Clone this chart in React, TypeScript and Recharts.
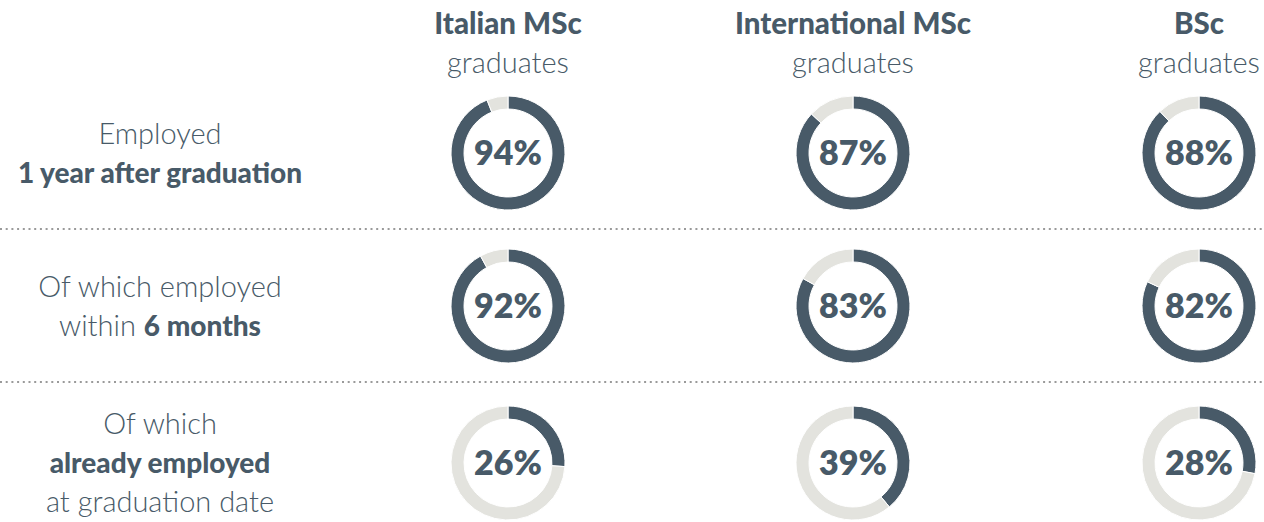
import React from "react";
import { PieChart, Pie, Cell, Customized } from "recharts";

const groups = ["Italian MSc", "International MSc", "BSc"];
const groupSub = "graduates";
const italian = [94, 92, 26];
const international = [87, 83, 39];
const bsc = [88, 82, 28];
const seriesByGroup = [italian, international, bsc];

type Seg = { t: string; b?: boolean };
const rowLabels: Seg[][][] = [
  [[{ t: "Employed" }], [{ t: "1 year after graduation", b: true }]],
  [[{ t: "Of which employed" }], [{ t: "within " }, { t: "6 months", b: true }]],
  [[{ t: "Of which" }], [{ t: "already employed", b: true }], [{ t: "at graduation date" }]],
];

const W = 1264;
const H = 522;
const colX = [508, 853, 1199];
const rowY = [153, 306, 463];
const sepY = [229, 382];
const DARK = "#485a68";
const LIGHT = "#e3e3de";
const FONT = "Lato, 'Open Sans', sans-serif";

const Overlay = () => (
  <g>
    {sepY.map((y, i) => (
      <line key={i} x1={0} x2={W} y1={y} y2={y} stroke="#9a9a9a" strokeWidth={2} strokeDasharray="2 3.7" />
    ))}
    {groups.map((g, i) => (
      <g key={g}>
        <text x={colX[i]} y={34} textAnchor="middle" fontFamily={FONT} fontWeight={900} fontSize={29.5} fill={DARK}>
          {g}
        </text>
        <text x={colX[i]} y={73} textAnchor="middle" fontFamily={FONT} fontWeight={300} fontSize={29} fill={DARK}>
          {groupSub}
        </text>
      </g>
    ))}
    {rowLabels.map((lines, r) => {
      const n = lines.length;
      const lh = 39;
      const top = rowY[r] - ((n - 1) * lh) / 2 + 10;
      return lines.map((segs, li) => (
        <text key={r + "-" + li} x={160} y={top + li * lh} textAnchor="middle" fontFamily={FONT} fill={DARK}>
          {segs.map((s, k) => (
            <tspan key={k} fontWeight={s.b ? 900 : 300} fontSize={s.b ? 28 : 29}>
              {s.t}
            </tspan>
          ))}
        </text>
      ));
    })}
    {seriesByGroup.map((vals, c) =>
      vals.map((v, r) => (
        <text key={c + "-" + r} x={colX[c]} y={rowY[r] + 12} textAnchor="middle" fontFamily={FONT} fontWeight={800} fontSize={34} fill={DARK}>
          {v}%
        </text>
      ))
    )}
  </g>
);

export default function App() {
  return (
    <div style={{ position: "absolute", left: 0, top: 0, width: W, height: H, background: "#fff" }}>
      <PieChart width={W} height={H} margin={{ top: 0, right: 0, bottom: 0, left: 0 }}>
        {seriesByGroup.map((vals, c) =>
          vals.map((v, r) => (
            <Pie
              key={c + "-" + r}
              data={[{ name: "yes", value: v }, { name: "no", value: 100 - v }]}
              dataKey="value"
              cx={colX[c]}
              cy={rowY[r]}
              innerRadius={44}
              outerRadius={57}
              startAngle={90}
              endAngle={-270}
              stroke="#fff"
              strokeWidth={1}
              isAnimationActive={false}
            >
              <Cell fill={DARK} />
              <Cell fill={LIGHT} />
            </Pie>
          ))
        )}
        <Customized component={Overlay} />
      </PieChart>
    </div>
  );
}
